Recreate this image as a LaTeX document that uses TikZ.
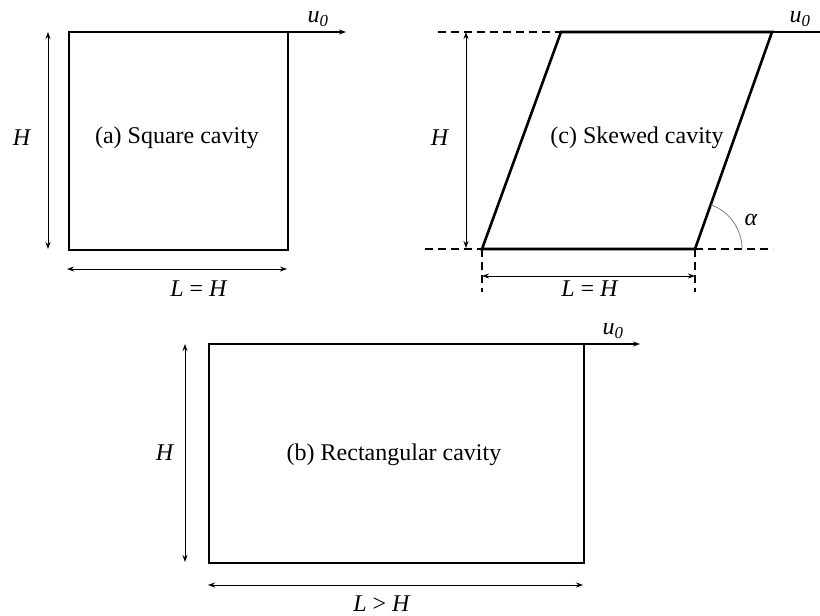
\documentclass[tikz,border=0pt]{standalone}
\usepackage{fontspec}
\setmainfont{Liberation Serif}
\usetikzlibrary{arrows.meta}
\begin{document}
\begin{tikzpicture}[x=1pt,y=-1pt,
  wall/.style={line width=2.6pt,line join=miter},
  dim/.style={line width=0.9pt,{Stealth[length=7pt,width=5pt]}-{Stealth[length=7pt,width=5pt]}},
  lid/.style={line width=1.3pt,-{Stealth[length=7pt,width=5pt]}},
  ext/.style={line width=1.2pt,dash pattern=on 8pt off 5pt},
  lbl/.style={font=\fontsize{24}{26}\selectfont,inner sep=0pt},
  ttl/.style={font=\fontsize{24}{26}\selectfont,inner sep=0pt}]
\useasboundingbox (0,0) rectangle (820,616);
% (a) square
\coordinate (a1) at (69,32); \coordinate (a2) at (288,32);
\coordinate (a3) at (288,250); \coordinate (a4) at (69,250);
\draw[wall] (a1) -- (a2) -- (a3) -- (a4) -- cycle;
\coordinate (au) at (346,32);
\draw[lid] (a2) -- (au);
\node[lbl] (auL) at (318,19) {\textit{u}\textsubscript{\textit{0}}};
\coordinate (ah1) at (48,32); \coordinate (ah2) at (48,249);
\draw[dim] (ah1) -- (ah2);
\node[lbl] (aH) at (22,138) {\textit{H}};
\coordinate (al1) at (67,269); \coordinate (al2) at (287,269);
\draw[dim] (al1) -- (al2);
\node[lbl] (aL) at (199,289) {\textit{L} = \textit{H}};
\node[ttl] (aT) at (177,138) {(a) Square cavity};
% (c) skewed
\coordinate (c1) at (561,32); \coordinate (c2) at (772,32);
\coordinate (c3) at (695,249); \coordinate (c4) at (482,249);
\draw[wall] (c1) -- (c2) -- (c3) -- (c4) -- cycle;
\coordinate (cu) at (820,32);
\draw[line width=1.3pt] (c2) -- (cu);
\node[lbl] (cuL) at (800,19) {\textit{u}\textsubscript{\textit{0}}};
\coordinate (ct0) at (438,32);
\draw[ext] (ct0) -- (c1);
\coordinate (cb0) at (425,249); \coordinate (cb1) at (773,249);
\draw[ext] (cb0) -- (c4);
\draw[ext] (c3) -- (cb1);
\coordinate (ch1) at (466,32); \coordinate (ch2) at (466,248);
\draw[dim] (ch1) -- (ch2);
\node[lbl] (cH) at (440,138) {\textit{H}};
\coordinate (ct1) at (482,292); \coordinate (ct2) at (695,292);
\draw[ext] (c4) -- (ct1);
\draw[ext] (c3) -- (ct2);
\coordinate (cl1) at (482,276); \coordinate (cl2) at (695,276);
\draw[dim] (cl1) -- (cl2);
\node[lbl] (cL) at (590,289) {\textit{L} = \textit{H}};
\node[ttl] (cT) at (637,138) {(c) Skewed cavity};
\draw[gray,line width=0.8pt] (c3) ++(-70.4:47) arc[start angle=-70.4,end angle=0,radius=47];
\node[lbl] (cA) at (751,220) {\textit{α}};
% (b) rectangle
\coordinate (b1) at (209,344); \coordinate (b2) at (584,344);
\coordinate (b3) at (584,563); \coordinate (b4) at (209,563);
\draw[wall] (b1) -- (b2) -- (b3) -- (b4) -- cycle;
\coordinate (bu) at (640,344);
\draw[lid] (b2) -- (bu);
\node[lbl] (buL) at (613,331) {\textit{u}\textsubscript{\textit{0}}};
\coordinate (bh1) at (185,344); \coordinate (bh2) at (185,562);
\draw[dim] (bh1) -- (bh2);
\node[lbl] (bH) at (165,453) {\textit{H}};
\coordinate (bl1) at (208,585); \coordinate (bl2) at (583,585);
\draw[dim] (bl1) -- (bl2);
\node[lbl] (bL) at (382,604) {\textit{L} > \textit{H}};
\node[ttl] (bT) at (394,455) {(b) Rectangular cavity};
\end{tikzpicture}
\end{document}
